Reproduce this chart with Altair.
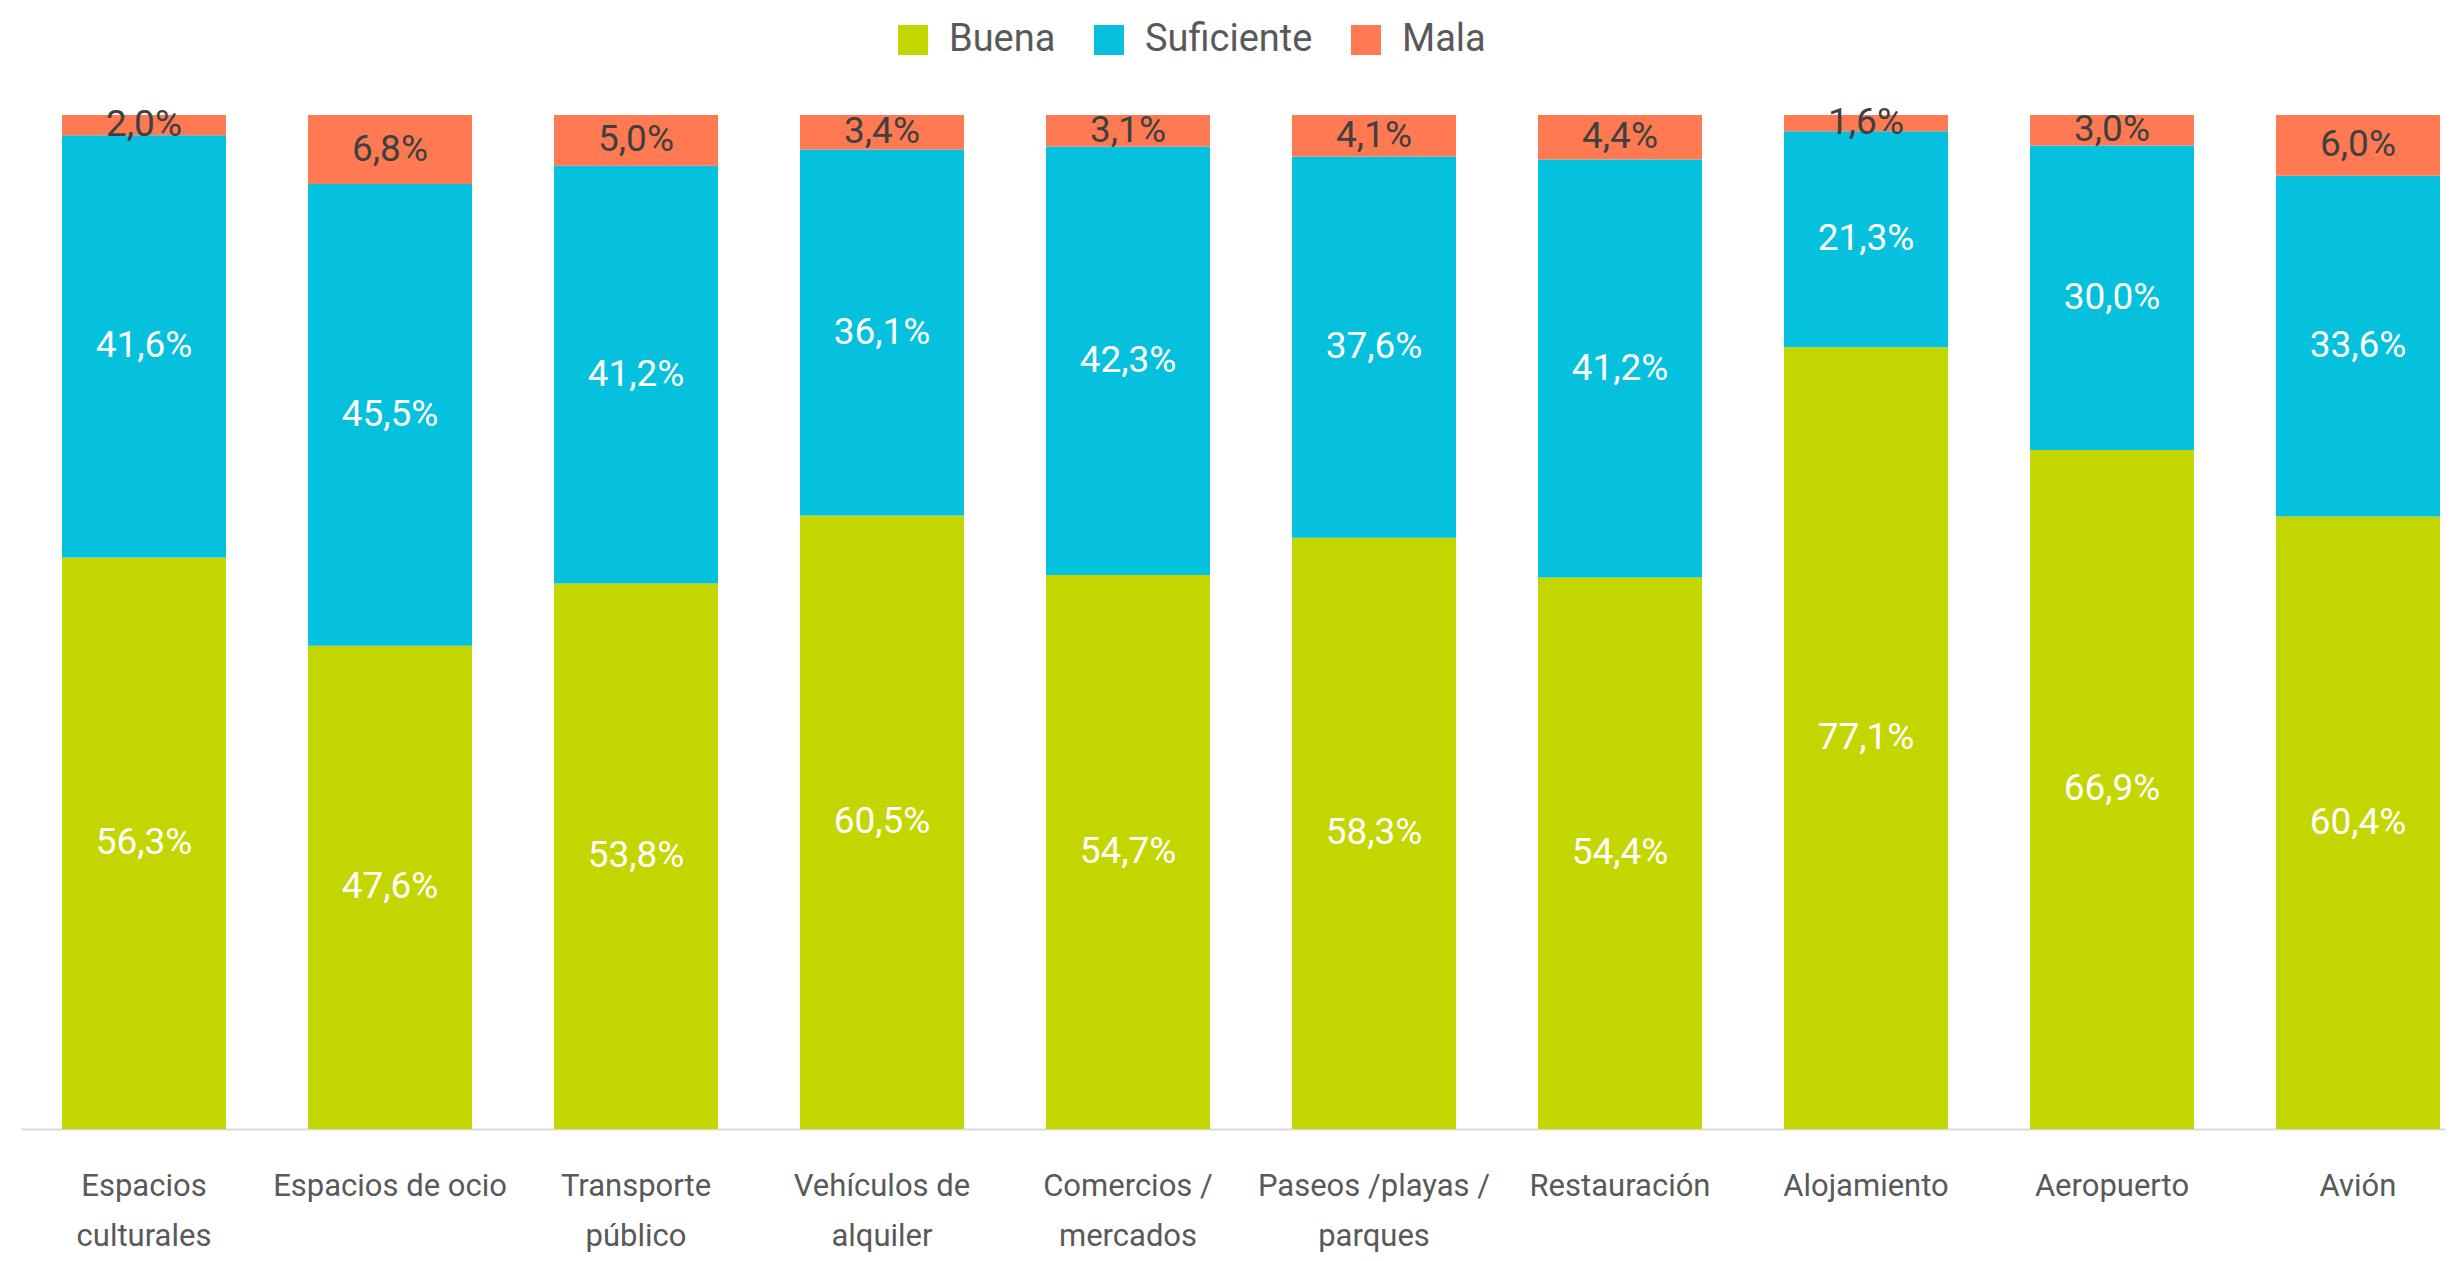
import altair as alt
import pandas as pd

categorias = ["Espacios|culturales", "Espacios de ocio", "Transporte|público",
              "Vehículos de|alquiler", "Comercios /|mercados", "Paseos /playas /|parques",
              "Restauración", "Alojamiento", "Aeropuerto", "Avión"]
series = ["Buena", "Suficiente", "Mala"]
buena = [56.3, 47.6, 53.8, 60.5, 54.7, 58.3, 54.4, 77.1, 66.9, 60.4]
suficiente = [41.6, 45.5, 41.2, 36.1, 42.3, 37.6, 41.2, 21.3, 30.0, 33.6]
mala = [2.0, 6.8, 5.0, 3.4, 3.1, 4.1, 4.4, 1.6, 3.0, 6.0]
colores = ["#C4D600", "#05C1DE", "#FF7A52"]

rows = []
for i, c in enumerate(categorias):
    for k, (s, vals) in enumerate(zip(series, [buena, suficiente, mala])):
        rows.append({"cat": c, "serie": s, "orden": k, "valor": vals[i]})
df = pd.DataFrame(rows)

FONT = "Roboto"

base = (
    alt.Chart(df)
    .transform_joinaggregate(total="sum(valor)", groupby=["cat"])
    .transform_calculate(pct="datum.valor / datum.total")
    .transform_stack(stack="pct", groupby=["cat"], as_=["y0", "y1"],
                     sort=[alt.SortField("orden", order="ascending")])
    .transform_calculate(
        mid="(datum.y0 + datum.y1) / 2",
        etiqueta="replace(format(datum.valor, '.1f'), '.', ',') + '%'",
        tcol="datum.serie == 'Mala' ? '#404040' : '#FFFFFF'",
    )
)

x = alt.X(
    "cat:N", sort=categorias,
    scale=alt.Scale(range=[0, 2460], paddingInner=1 / 3, paddingOuter=1 / 6),
    axis=alt.Axis(title=None, labelAngle=0, labelExpr="split(datum.label, '|')",
                  ticks=False, tickSize=0, domainColor="#D9D9D9", domainWidth=2,
                  labelFontSize=31, labelFont=FONT, labelColor="#595959",
                  labelPadding=42, labelLineHeight=50, labelLimit=0, grid=False),
)
yscale = alt.Scale(domain=[0, 1], nice=False, zero=True)

bars = base.mark_bar().encode(
    x=x,
    y=alt.Y("y0:Q", scale=yscale, axis=None),
    y2="y1:Q",
    color=alt.Color(
        "serie:N", scale=alt.Scale(domain=series, range=colores), sort=series,
        legend=alt.Legend(title=None, orient="none", legendX=873, legendY=-94,
                          direction="horizontal", symbolType="square", symbolSize=900,
                          labelFontSize=38, labelFont=FONT, labelColor="#595959",
                          columnPadding=34, labelOffset=17, symbolStrokeWidth=0,
                          symbolOpacity=1, padding=0, labelLimit=0),
    ),
)

text = base.mark_text(font=FONT, fontSize=37, baseline="middle").encode(
    x=x,
    y=alt.Y("mid:Q", scale=yscale, axis=None),
    text="etiqueta:N",
    color=alt.Color("tcol:N", scale=None),
)

chart = (
    alt.layer(bars, text)
    .properties(width=2424, height=1014, autosize=alt.AutoSizeParams(type="none"),
                padding={"left": 13, "top": 107, "right": 0, "bottom": 124})
    .configure_view(stroke=None)
)

chart.save("out.html", embed_options={"renderer": "svg", "actions": False})
